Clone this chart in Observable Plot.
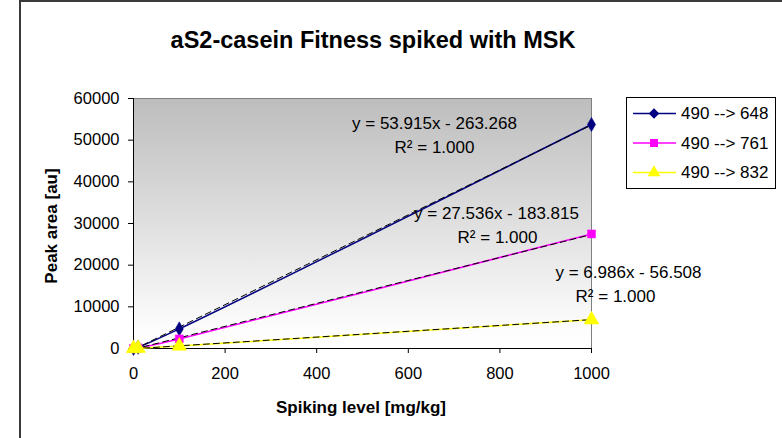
<!DOCTYPE html>
<html><head><meta charset="utf-8">
<script src="https://cdn.jsdelivr.net/npm/d3@7"></script>
<script src="https://cdn.jsdelivr.net/npm/@observablehq/plot@0.6"></script>
<style>
body{margin:0;background:#fff;font-family:"Liberation Sans",Arial,sans-serif;}
#wrap{position:relative;width:782px;height:438px;overflow:hidden;background:#fff;}
#border{position:absolute;left:19px;top:0;width:900px;height:600px;border-left:2px solid #3a3a3a;border-top:2px solid #3a3a3a;}
#chart{position:absolute;left:0;top:0;}
#title{position:absolute;left:373px;top:40px;transform:translate(-50%,-50%);font-weight:bold;font-size:23.5px;color:#000;white-space:nowrap;}
#ylabel{position:absolute;left:52px;top:226px;transform:translate(-50%,-50%) rotate(-90deg);font-weight:bold;font-size:17px;white-space:nowrap;}
#xlabel{position:absolute;left:361px;top:408px;transform:translate(-50%,-50%);font-weight:bold;font-size:17px;white-space:nowrap;}
#legend{position:absolute;left:626px;top:97px;width:148px;height:90px;border:1px solid #000;background:#fff;}
</style></head><body>
<div id="wrap">
  <div id="border"></div>
  <div id="chart"></div>
  <div id="title"></div>
  <div id="ylabel"></div>
  <div id="xlabel"></div>
  <div id="legend"></div>
</div>
<script>
// ---- data ----
const titleText = "aS2-casein Fitness spiked with MSK";
const xLabel = "Spiking level [mg/kg]";
const yLabel = "Peak area [au]";
const spikingLevels = [0, 10, 100, 1000];
const seriesNames = ["490 --> 648", "490 --> 761", "490 --> 832"];
const area648 = [0, 300, 4700, 53760];
const area761 = [0, 150, 2300, 27500];
const area832 = [0, 40, 600, 6900];
const slopes = [53.915, 27.536, 6.986];
const intercepts = [-263.268, -183.815, -56.508];
const rSquared = [1.000, 1.000, 1.000];
const xTicks = [0, 200, 400, 600, 800, 1000];
const yTicks = [0, 10000, 20000, 30000, 40000, 50000, 60000];

// ---- styles ----
const colors = ["#000080", "#FF00FF", "#FFFF00"];
const symbols = ["diamond", "square", "triangle"];
const symbolR = [4.3, 4.5, 5.5];
const eqOffsets = [[-157, -1], [-95, -20], [37, -47]];
const r2Offsets = [[-157, 23], [-94, 4], [24, -23]];

const seriesValues = [area648, area761, area832];
const series = seriesNames.map((name, i) => ({
  name,
  points: spikingLevels.map((x, j) => ({x, y: seriesValues[i][j]})),
  trend: [d3.min(spikingLevels), d3.max(spikingLevels)].map(x => ({x, y: slopes[i] * x + intercepts[i]})),
  end: {x: spikingLevels[spikingLevels.length - 1], y: seriesValues[i][seriesValues[i].length - 1]}
}));

const fmt = d => String(d);
const marks = [
  Plot.frame({fill: "url(#bg)", stroke: "#808080"}),
  Plot.axisX({ticks: xTicks, tickSize: 5, tickPadding: 14, label: null, tickFormat: fmt, fontSize: 16.5}),
  Plot.axisY({ticks: yTicks, tickSize: 5, tickPadding: 9, label: null, tickFormat: fmt, fontSize: 16.5}),
  Plot.ruleX([0], {stroke: "#000"}),
  Plot.ruleY([0], {stroke: "#000"})
];
series.forEach((s, i) => {
  marks.push(Plot.line(s.points, {x: "x", y: "y", stroke: colors[i], strokeWidth: 1.5, curve: "catmull-rom"}));
  marks.push(Plot.line(s.trend, {x: "x", y: "y", stroke: "#000", strokeWidth: 1, strokeDasharray: "6,4", clip: true}));
});
series.forEach((s, i) => {
  marks.push(Plot.dot(s.points, {x: "x", y: "y", symbol: () => symbols[i], fill: colors[i], stroke: colors[i], strokeWidth: 0.5, r: symbolR[i]}));
});
series.forEach((s, i) => {
  const sign = intercepts[i] < 0 ? "-" : "+";
  const eq = `y = ${slopes[i].toFixed(3)}x ${sign} ${Math.abs(intercepts[i]).toFixed(3)}`;
  marks.push(Plot.text([s.end], {x: "x", y: "y", text: () => eq, dx: eqOffsets[i][0], dy: eqOffsets[i][1], fontSize: 17, fill: "#000"}));
  marks.push(Plot.text([s.end], {x: "x", y: "y", text: () => `R² = ${rSquared[i].toFixed(3)}`, dx: r2Offsets[i][0], dy: r2Offsets[i][1], fontSize: 17, fill: "#000"}));
});

const chart = Plot.plot({
  width: 782, height: 438,
  marginLeft: 133, marginRight: 191, marginTop: 98, marginBottom: 90,
  x: {domain: [0, 1000]},
  y: {domain: [0, 60000]},
  style: {fontFamily: "'Liberation Sans', Arial, sans-serif", fontSize: "16.5px", color: "#000", background: "transparent", overflow: "visible"},
  marks
});
d3.select(chart).insert("defs", ":first-child").html(
  '<linearGradient id="bg" x1="0" y1="0" x2="0" y2="1">' +
  '<stop offset="0" stop-color="#bdbdbd"/><stop offset="0.93" stop-color="#fdfdfd"/><stop offset="1" stop-color="#ffffff"/></linearGradient>');
document.getElementById("chart").appendChild(chart);

document.getElementById("title").textContent = titleText;
document.getElementById("xlabel").textContent = xLabel;
document.getElementById("ylabel").textContent = yLabel;

// legend
const lg = d3.select("#legend").append("svg").attr("width", 148).attr("height", 90);
seriesNames.forEach((name, i) => {
  const g = lg.append("g").attr("transform", `translate(0,${15.5 + i * 29.5})`);
  g.append("line").attr("x1", 6).attr("x2", 49).attr("stroke", colors[i]).attr("stroke-width", 1.5);
  g.append("path").attr("transform", "translate(27,0)").attr("d", d3.symbol(
    [d3.symbolDiamond2, d3.symbolSquare, d3.symbolTriangle][i], [70, 64, 70][i])()).attr("fill", colors[i]);
  g.append("text").attr("x", 54).attr("dy", "0.35em").attr("font-size", 17).attr("font-family", "'Liberation Sans', Arial, sans-serif").text(name);
});
</script>
</body></html>
